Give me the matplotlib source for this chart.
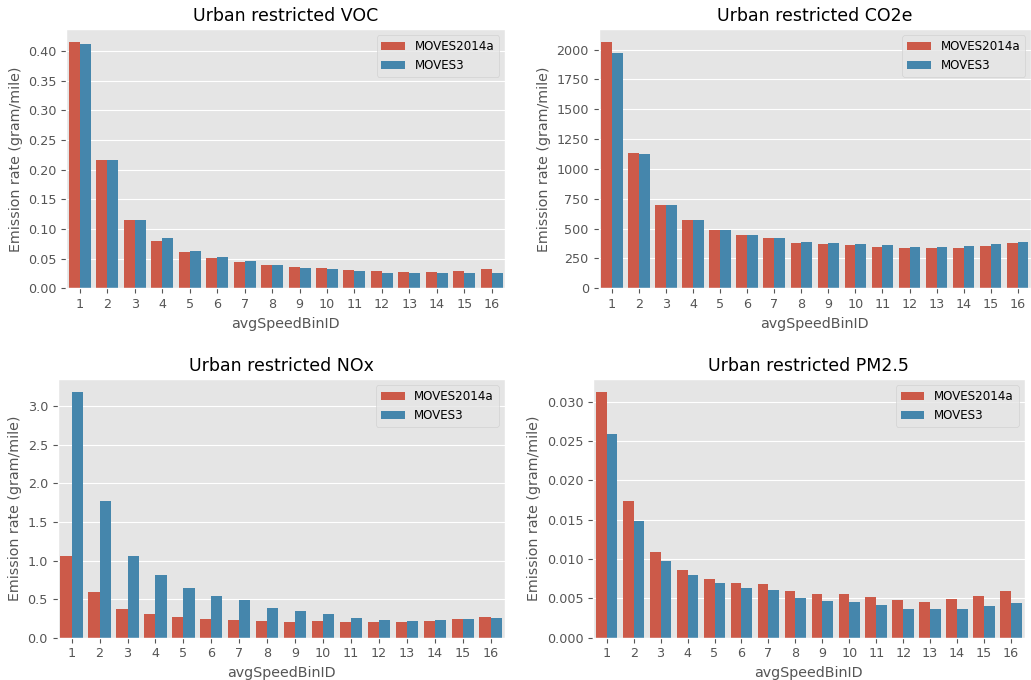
import matplotlib
matplotlib.use('Agg')
import matplotlib.pyplot as plt
import seaborn as sns
import pandas as pd

plt.style.use('ggplot')
plt.rcParams['font.size'] = 8.5
plt.rcParams['xtick.labelsize'] = 9.2
plt.rcParams['ytick.labelsize'] = 9.2

bins = list(range(1, 17))
models = ['MOVES2014a', 'MOVES3']

voc_2014a = [0.416, 0.217, 0.116, 0.079, 0.061, 0.051, 0.044, 0.039,
             0.036, 0.034, 0.031, 0.029, 0.028, 0.028, 0.029, 0.032]
voc_3 = [0.412, 0.216, 0.116, 0.084, 0.063, 0.052, 0.046, 0.039,
         0.035, 0.032, 0.029, 0.026, 0.025, 0.025, 0.025, 0.025]

co2e_2014a = [2067, 1135, 700, 575, 485, 444, 418, 379,
              368, 360, 349, 335, 335, 340, 357, 379]
co2e_3 = [1969, 1124, 700, 575, 491, 444, 424, 388,
          379, 371, 360, 349, 346, 354, 371, 385]

nox_2014a = [1.057, 0.587, 0.375, 0.311, 0.268, 0.246, 0.233, 0.216,
             0.207, 0.211, 0.203, 0.199, 0.203, 0.211, 0.237, 0.268]
nox_3 = [3.19, 1.778, 1.057, 0.807, 0.639, 0.544, 0.492, 0.388,
         0.341, 0.306, 0.259, 0.224, 0.211, 0.224, 0.246, 0.259]

pm_2014a = [0.0313, 0.0174, 0.0109, 0.0086, 0.0075, 0.0070, 0.0068, 0.0059,
            0.0056, 0.0056, 0.0052, 0.0048, 0.0046, 0.0049, 0.0053, 0.0060]
pm_3 = [0.0259, 0.0148, 0.0097, 0.0080, 0.0069, 0.0063, 0.0061, 0.0050,
        0.0047, 0.0045, 0.0041, 0.0037, 0.0036, 0.0037, 0.0040, 0.0044]

# title, series, and axes box in pixels (left, right, top, bottom)
panels = [
    ('Urban restricted VOC', voc_2014a, voc_3, [66.3, 505.4, 29.3, 288.3]),
    ('Urban restricted CO2e', co2e_2014a, co2e_3, [598.5, 1031.2, 29.3, 288.3]),
    ('Urban restricted NOx', nox_2014a, nox_3, [57.7, 504.6, 379.3, 637.7]),
    ('Urban restricted PM2.5', pm_2014a, pm_3, [593.2, 1024.5, 379.3, 637.7]),
]

W, H = 1031, 680
fig = plt.figure(figsize=(W / 100, H / 100), dpi=100)

for title, old, new, (x0, x1, y0, y1) in panels:
    ax = fig.add_axes([x0 / W, 1 - y1 / H, (x1 - x0) / W, (y1 - y0) / H])
    df = pd.DataFrame({
        'avgSpeedBinID': bins * 2,
        'rate': old + new,
        'model': [models[0]] * 16 + [models[1]] * 16,
    })
    sns.barplot(data=df, x='avgSpeedBinID', y='rate', hue='model',
                hue_order=models, ax=ax, errorbar=None, saturation=0.75)
    ax.legend(loc='upper right', fontsize=8.6)
    ax.set_title(title, fontsize=12.5)
    ax.set_xlabel('avgSpeedBinID', fontsize=10.3)
    ax.set_ylabel('Emission rate (gram/mile)', fontsize=10.3)

fig.savefig('out.png', dpi=100)
